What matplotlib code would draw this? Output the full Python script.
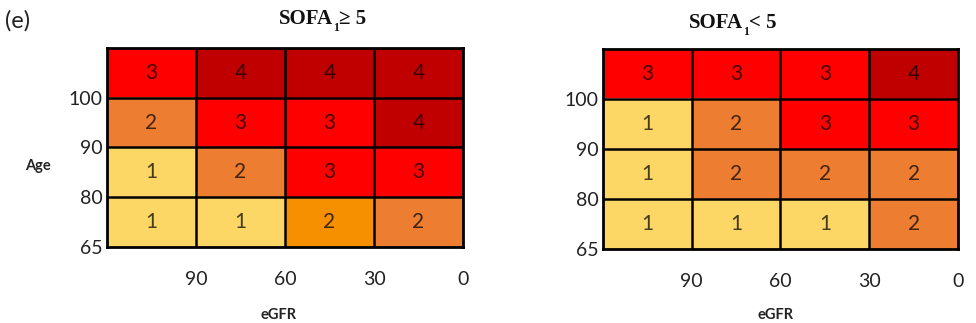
import matplotlib
matplotlib.use("Agg")
import matplotlib.pyplot as plt
from matplotlib.colors import to_rgb
import numpy as np

# rows from bottom (65-80) to top (100+), columns from eGFR >90 down to <30
age_ticks = ["65", "80", "90", "100"]
egfr_ticks = ["90", "60", "30", "0"]

left_scores = [
    [1, 1, 2, 2],
    [1, 2, 3, 3],
    [2, 3, 3, 4],
    [3, 4, 4, 4],
]
right_scores = [
    [1, 1, 1, 2],
    [1, 2, 2, 2],
    [1, 2, 3, 3],
    [3, 3, 3, 4],
]
left_title = ("SOFA", "1", "≥ 5")
right_title = ("SOFA", "1", "< 5")

PALETTE = {1: "#FDD766", 2: "#EC7D31", 3: "#FE0000", 4: "#C00000"}
# one cell in the left panel is shaded a brighter orange in the original
LEFT_OVERRIDE = {(0, 2): "#F79000"}

plt.rcParams["font.family"] = "Lato"

fig = plt.figure(figsize=(9.76, 3.23), dpi=100)
renderer = fig.canvas.get_renderer()


def draw_title(parts, xc, y):
    # main text + small subscript, built piece by piece then centred
    kw = dict(family="Liberation Serif", fontweight="bold", color="#111111",
              va="baseline")
    t1 = fig.text(0, y, parts[0], fontsize=15, **kw)
    w1 = t1.get_window_extent(renderer).width / fig.bbox.width
    t2 = fig.text(0, y - 0.02, parts[1], fontsize=8.5, **kw)
    w2 = t2.get_window_extent(renderer).width / fig.bbox.width
    t3 = fig.text(0, y, parts[2], fontsize=15, **kw)
    w3 = t3.get_window_extent(renderer).width / fig.bbox.width
    x0 = xc - (w1 + w2 + w3) / 2
    t1.set_x(x0)
    t2.set_x(x0 + w1)
    t3.set_x(x0 + w1 + w2)


def draw_panel(rect, scores, override, xlabel_x):
    ax = fig.add_axes(rect)
    arr = np.array(scores)
    n_r, n_c = arr.shape
    img = np.zeros((n_r, n_c, 3))
    for i in range(n_r):
        for j in range(n_c):
            img[i, j] = to_rgb(override.get((i, j), PALETTE[arr[i, j]]))
    ax.imshow(img, origin="lower", extent=(0, n_c, 0, n_r), aspect="auto")
    for i in range(n_r):
        for j in range(n_c):
            ax.text(j + 0.5, i + 0.5, str(arr[i, j]), ha="center", va="center",
                    fontsize=15, color="black", alpha=0.72)
    for k in range(1, n_c):
        ax.axvline(k, color="black", lw=1.8)
    for k in range(1, n_r):
        ax.axhline(k, color="black", lw=1.8)
    for s in ax.spines.values():
        s.set_linewidth(2)
    ax.set_xlim(0, n_c)
    ax.set_ylim(0, n_r)
    ax.set_yticks(range(n_r))
    ax.set_yticklabels(age_ticks, fontsize=14, color="#222222")
    ax.set_xticks(range(1, n_c + 1))
    ax.set_xticklabels(egfr_ticks, fontsize=14, color="#222222")
    ax.tick_params(length=0, pad=3)
    ax.tick_params(axis="x", pad=17)
    fig.text(xlabel_x, 0.012, "eGFR", ha="center", fontsize=10.5,
             fontweight="bold", color="#222222")
    return ax


draw_panel([0.1096, 0.2353, 0.3648, 0.6161], left_scores, LEFT_OVERRIDE, 0.285)
draw_panel([0.6178, 0.229, 0.3637, 0.6193], right_scores, {}, 0.795)
draw_title(left_title, 0.330, 0.925)
draw_title(right_title, 0.751, 0.912)

fig.text(0.039, 0.485, "Age", ha="center", va="center", fontsize=10.5,
         fontweight="bold", color="#222222")
fig.text(0.005, 0.935, "(e)", ha="left", va="center", fontsize=17,
         color="#222222")

fig.savefig("out.png", dpi=100, facecolor="white")
